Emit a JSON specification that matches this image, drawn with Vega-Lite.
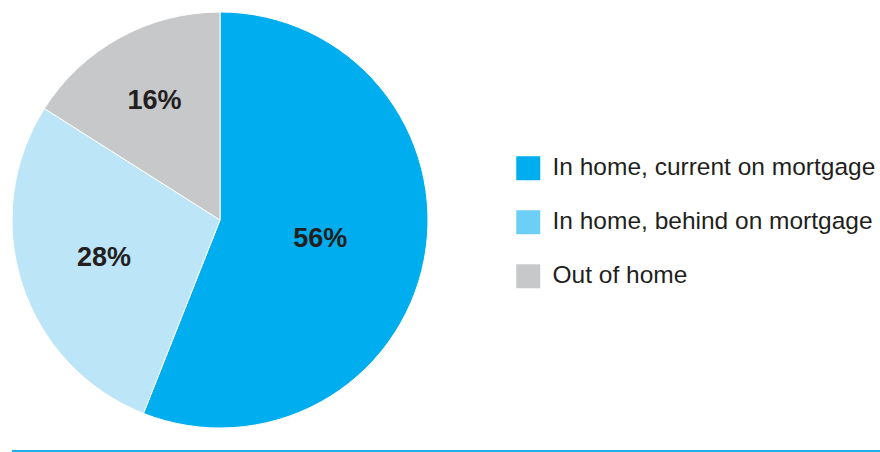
{
  "$schema": "https://vega.github.io/schema/vega-lite/v6.json",
  "width": 440,
  "height": 440,
  "autosize": {"type": "none"},
  "padding": {"left": 0, "top": 0, "right": 440, "bottom": 12},
  "background": "white",
  "config": {"view": {"stroke": null}},
  "data": {
    "values": [
      {"cat": "In home, current on mortgage", "pct": 56, "label": "56%"},
      {"cat": "In home, behind on mortgage", "pct": 28, "label": "28%"},
      {"cat": "Out of home", "pct": 16, "label": "16%"}
    ]
  },
  "resolve": {"scale": {"color": "independent"}},
  "layer": [
    {
      "mark": {"type": "arc", "outerRadius": 208, "stroke": "white", "strokeWidth": 1},
      "encoding": {
        "theta": {"field": "pct", "type": "quantitative", "stack": true},
        "order": {"field": "pct", "sort": "descending"},
        "color": {
          "field": "cat",
          "type": "nominal",
          "scale": {
            "domain": ["In home, current on mortgage", "In home, behind on mortgage", "Out of home"],
            "range": ["#00AEEF", "#BDE5F8", "#C7C8CA"]
          },
          "legend": null
        }
      }
    },
    {
      "mark": {"type": "text", "font": "Liberation Sans", "fontWeight": "bold", "fontSize": 27, "color": "#231F20"},
      "encoding": {
        "theta": {"field": "pct", "type": "quantitative", "stack": true},
        "order": {"field": "pct", "sort": "descending"},
        "radius": {
          "field": "pct",
          "type": "quantitative",
          "scale": {"type": "linear", "domain": [16, 28, 56], "range": [136, 122, 102], "zero": false}
        },
        "text": {"field": "label", "type": "nominal"}
      }
    },
    {
      "mark": {"type": "square", "opacity": 0, "size": 576},
      "encoding": {
        "color": {
          "field": "cat",
          "type": "nominal",
          "scale": {
            "domain": ["In home, current on mortgage", "In home, behind on mortgage", "Out of home"],
            "range": ["#00AEEF", "#6DCFF6", "#C7C8CA"]
          },
          "legend": {
            "title": null,
            "orient": "none",
            "legendX": 516,
            "legendY": 156,
            "symbolType": "square",
            "symbolSize": 576,
            "symbolOpacity": 1,
            "symbolStrokeWidth": 0,
            "labelFont": "Liberation Sans",
            "labelFontSize": 24.5,
            "labelColor": "#231F20",
            "labelOffset": 12,
            "labelLimit": 400,
            "rowPadding": 28,
            "padding": 0
          }
        }
      }
    },
    {
      "data": {"values": [{"start": 0, "end": 1, "level": 0}]},
      "mark": {"type": "rule", "color": "#1DB1E9", "strokeWidth": 2},
      "encoding": {
        "x": {"field": "start", "type": "quantitative", "scale": {"domain": [0, 1], "range": [12, 880]}, "axis": null},
        "x2": {"field": "end"},
        "y": {"field": "level", "type": "quantitative", "scale": {"domain": [0, 1], "range": [451, 0]}, "axis": null}
      }
    }
  ]
}
